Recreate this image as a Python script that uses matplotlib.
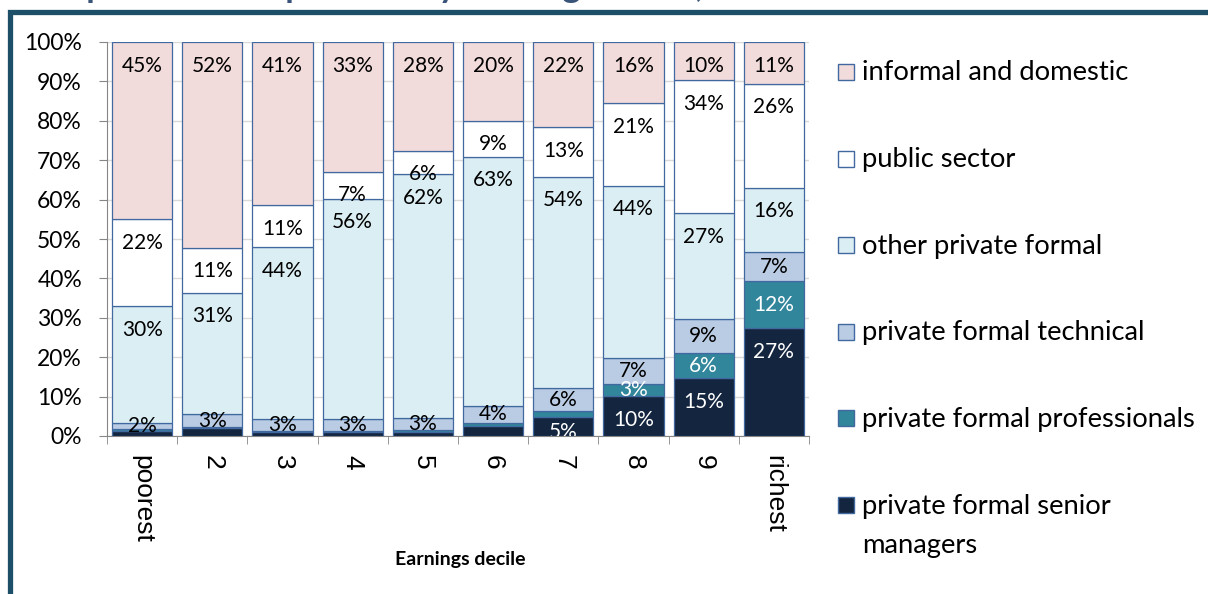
import matplotlib
matplotlib.use("Agg")
import matplotlib.pyplot as plt
from matplotlib.patches import Rectangle
import numpy as np

# ---------------- data ----------------
categories = ["poorest", "2", "3", "4", "5", "6", "7", "8", "9", "richest"]
series_names = ["private formal senior managers", "private formal professionals",
                "private formal technical", "other private formal",
                "public sector", "informal and domestic"]
senior_managers = [1.2, 2.0, 1.0, 1.0, 1.0, 2.5, 4.7, 10.1, 14.6, 27.3]
professionals   = [0.5, 0.3, 0.3, 0.3, 0.4, 0.9, 1.6, 3.0, 6.4, 12.0]
technical       = [1.7, 3.2, 3.1, 2.9, 3.1, 4.2, 5.8, 6.8, 8.7, 7.3]
other_private   = [29.6, 30.9, 43.6, 56.0, 61.9, 63.3, 53.7, 43.6, 26.8, 16.4]
public_sector   = [22.1, 11.4, 10.6, 6.9, 6.0, 9.1, 12.6, 20.9, 33.8, 26.4]
informal        = [44.9, 52.2, 41.4, 32.9, 27.6, 20.0, 21.6, 15.6, 9.7, 10.6]
yticks = [0, 10, 20, 30, 40, 50, 60, 70, 80, 90, 100]
xlabel = "Earnings decile"
title_text = "Occupational composition by earnings decile, ..."

# ---------------- style ----------------
colors = ["#13253f", "#31869b", "#b9cce4", "#dbeef3", "#ffffff", "#f2dcdb"]
label_colors = ["white", "white", "black", "black", "black", "black"]
label_mode = ["end", "center", "center", "end", "end", "end"]
edge = "#41699f"
FONT = "Lato"

W, H = 1208, 594
fig = plt.figure(figsize=(W / 100, H / 100), dpi=100)
fig.patch.set_facecolor("white")

ax = fig.add_axes([107 / W, 1 - 436 / H, (809 - 107) / W, (436 - 42) / H])
data = [senior_managers, professionals, technical, other_private, public_sector, informal]
x = np.arange(len(categories))
bottom = np.zeros(len(categories))
for si, (vals, c) in enumerate(zip(data, colors)):
    vals = np.array(vals)
    ax.bar(x, vals, bottom=bottom, width=0.855, color=c, edgecolor=edge,
           linewidth=0.9, zorder=3, label=series_names[si])
    for i, v in enumerate(vals):
        top = bottom[i] + v
        if si in (0, 1) and v < 2.95:
            continue
        if label_mode[si] == "center":
            y = bottom[i] + v / 2
        else:
            y = max(top - 6.0, 1.0)
        ax.text(x[i], y, f"{int(round(v))}%", ha="center", va="center",
                fontsize=15, family=FONT, color=label_colors[si], zorder=5,
                clip_on=True)
    bottom += vals

ax.set_xlim(-0.5, len(categories) - 0.5)
ax.set_ylim(0, 100)
ax.set_yticks(yticks)
ax.set_yticklabels([f"{t}%" for t in yticks], family=FONT, fontsize=16.5)
ax.tick_params(axis="y", length=6, color="#868686", pad=12)
ax.yaxis.grid(True, color="#d9d9d9", linewidth=1, zorder=0)
ax.set_axisbelow(True)

ax.set_xticks(x)
ax.set_xticklabels(categories, rotation=270, family="Liberation Sans", fontsize=19)
ax.set_xticks(np.arange(-0.5, len(categories)), minor=True)
ax.tick_params(axis="x", which="major", length=0, pad=14)
ax.tick_params(axis="x", which="minor", length=6, color="#868686")

for s in ["top", "right"]:
    ax.spines[s].set_visible(False)
for s in ["left", "bottom"]:
    ax.spines[s].set_color("#868686")

fig.text(460 / W, 1 - 560 / H, xlabel, ha="center", va="center",
         fontsize=14, family=FONT, fontweight="bold")

# legend (manual, top to bottom)
leg_labels = ["informal and domestic", "public sector", "other private formal",
              "private formal technical", "private formal professionals",
              "private formal senior\nmanagers"]
leg_colors = colors[::-1]
line_step = 40
for i, (lab, c) in enumerate(zip(leg_labels, leg_colors)):
    yc = 72 + i * 86.6
    fig.patches.append(Rectangle((838 / W, 1 - (yc + 8) / H), 16 / W, 16 / H,
                                 transform=fig.transFigure, facecolor=c,
                                 edgecolor=edge, linewidth=1))
    extra = lab.count("\n") * line_step
    fig.text(862 / W, 1 - (yc + 8.5 + extra) / H, lab, ha="left", va="baseline",
             fontsize=19.7, family=FONT, linespacing=1.72)

# frame
fig.patches.append(Rectangle((10 / W, -0.2), 1.5, 1.2 - 12.5 / H,
                             transform=fig.transFigure, fill=False,
                             edgecolor="#1d5068", linewidth=3.8, zorder=10))
# cut-off title (top edge of the original image crops it)
fig.text(5 / W, 1 + 3 / H, title_text, ha="left", va="baseline",
         fontsize=25, family=FONT, fontweight="bold", color="#3a5479")

fig.savefig("out.png", dpi=100)
